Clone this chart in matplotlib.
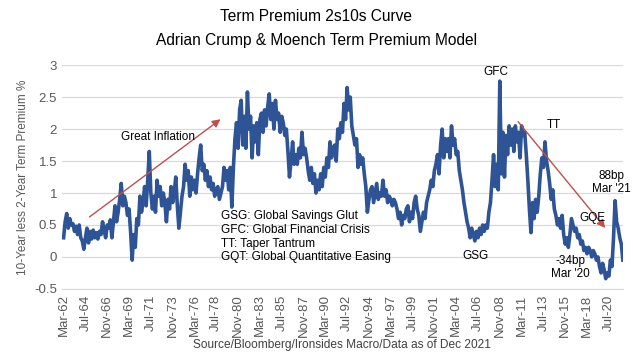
import numpy as np
import matplotlib
matplotlib.use("Agg")
import matplotlib.pyplot as plt

plt.rcParams['font.family'] = ['Liberation Sans', 'DejaVu Sans']

# bi-monthly readings, Mar-62 .. Jan-22, one row per year
term_premium = [
    0.30, 0.55, 0.68, 0.45, 0.60, 0.50,   # 1962
    0.52, 0.40, 0.48, 0.35, 0.50, 0.30,   # 1963
    0.25, 0.12, 0.30, 0.45, 0.22, 0.40,   # 1964
    0.28, 0.42, 0.30, 0.38, 0.28, 0.40,   # 1965
    0.35, 0.55, 0.42, 0.30, 0.50, 0.45,   # 1966
    0.58, 0.30, 0.55, 0.80, 0.55, 0.70,   # 1967
    0.90, 1.15, 0.80, 0.95, 0.85, 0.65,   # 1968
    0.75, 0.40, -0.05, 0.35, 0.15, 0.60,  # 1969
    0.50, 0.95, 0.70, 0.85, 1.10, 0.80,   # 1970
    1.20, 1.65, 1.00, 0.75, 0.95, 0.70,   # 1971
    1.20, 0.95, 1.10, 0.80, 1.00, 0.85,   # 1972
    0.55, 0.90, 0.75, 1.10, 0.85, 1.00,   # 1973
    1.25, 0.80, 0.45, 0.70, 0.95, 1.10,   # 1974
    1.45, 1.20, 1.35, 0.95, 1.25, 1.05,   # 1975
    1.20, 1.00, 1.30, 1.55, 1.75, 1.35,   # 1976
    1.45, 1.20, 1.35, 1.10, 1.25, 1.05,   # 1977
    1.15, 0.95, 1.05, 1.10, 0.90, 1.00,   # 1978
    1.10, 1.40, 1.20, 1.35, 1.05, 1.40,   # 1979
    0.78, 1.40, 1.85, 2.10, 1.70, 2.30,   # 1980
    2.45, 1.75, 2.20, 1.70, 2.58, 2.00,   # 1981
    2.20, 1.55, 2.05, 1.80, 2.10, 1.60,   # 1982
    2.15, 2.25, 1.95, 2.30, 2.05, 2.35,   # 1983
    2.55, 2.15, 2.40, 2.00, 2.45, 2.15,   # 1984
    2.25, 1.95, 2.20, 2.10, 1.90, 2.00,   # 1985
    1.65, 1.25, 1.50, 1.80, 1.45, 1.60,   # 1986
    1.45, 1.70, 1.55, 1.95, 1.60, 1.70,   # 1987
    1.55, 1.35, 1.20, 1.40, 1.15, 1.30,   # 1988
    1.00, 1.20, 1.05, 1.30, 1.10, 1.40,   # 1989
    1.25, 1.55, 1.40, 1.80, 1.55, 1.70,   # 1990
    1.75, 1.50, 2.00, 1.85, 2.10, 1.95,   # 1991
    2.40, 2.15, 2.65, 2.30, 2.50, 2.05,   # 1992
    1.90, 1.75, 1.85, 1.40, 1.60, 1.45,   # 1993
    1.55, 1.30, 1.10, 0.70, 0.90, 1.05,   # 1994
    1.10, 0.85, 1.00, 1.15, 0.90, 1.00,   # 1995
    0.95, 1.20, 0.95, 1.05, 0.85, 0.95,   # 1996
    0.90, 0.80, 0.90, 0.85, 0.75, 0.60,   # 1997
    0.70, 0.50, 0.65, 0.60, 0.75, 0.80,   # 1998
    0.55, 0.70, 0.60, 0.85, 0.95, 0.75,   # 1999
    0.65, 0.40, 0.55, 0.70, 0.60, 0.85,   # 2000
    0.95, 1.05, 1.20, 1.10, 1.35, 1.45,   # 2001
    1.60, 1.30, 1.75, 2.00, 1.55, 1.85,   # 2002
    1.65, 1.85, 1.55, 2.05, 1.75, 1.85,   # 2003
    1.60, 1.65, 1.35, 1.20, 1.05, 0.85,   # 2004
    0.70, 0.55, 0.45, 0.30, 0.45, 0.35,   # 2005
    0.25, 0.40, 0.30, 0.45, 0.35, 0.50,   # 2006
    0.40, 0.50, 0.45, 0.70, 0.85, 1.20,   # 2007
    1.60, 1.10, 1.45, 1.05, 2.75, 1.30,   # 2008
    1.95, 1.25, 1.90, 1.60, 2.05, 1.75,   # 2009
    2.00, 1.65, 2.05, 1.80, 1.95, 1.55,   # 2010
    2.05, 1.90, 1.95, 1.60, 1.20, 0.75,   # 2011
    0.38, 0.85, 0.60, 0.90, 0.70, 0.95,   # 2012
    1.30, 1.55, 1.40, 1.80, 1.50, 1.35,   # 2013
    1.15, 0.90, 1.05, 0.75, 0.65, 0.50,   # 2014
    0.60, 0.45, 0.65, 0.35, 0.20, 0.30,   # 2015
    0.15, 0.35, 0.60, 0.50, 0.40, 0.45,   # 2016
    0.30, 0.35, 0.20, 0.25, 0.10, 0.15,   # 2017
    0.05, 0.15, 0.10, 0.00, 0.10, 0.05,   # 2018
    -0.05, 0.00, -0.15, -0.25, -0.10, -0.20,  # 2019
    -0.34, -0.25, -0.30, -0.05, -0.15, 0.30,  # 2020
    0.88, 0.55, 0.45, 0.30, 0.20, -0.05,      # 2021
]

tick_labels = ['Mar-62', 'Jul-64', 'Nov-66', 'Mar-69', 'Jul-71', 'Nov-73', 'Mar-76',
               'Jul-78', 'Nov-80', 'Mar-83', 'Jul-85', 'Nov-87', 'Mar-90', 'Jul-92',
               'Nov-94', 'Mar-97', 'Jul-99', 'Nov-01', 'Mar-04', 'Jul-06', 'Nov-08',
               'Mar-11', 'Jul-13', 'Nov-15', 'Mar-18', 'Jul-20']

glossary = ['GSG: Global Savings Glut', 'GFC: Global Financial Crisis',
            'TT: Taper Tantrum', 'GQT: Global Quantitative Easing']

# time axis in fractional years (month index / 12)
years = 1962 + (2 + 2 * np.arange(len(term_premium))) / 12.0
tick_pos = 1962 + (2 + 28 * np.arange(len(tick_labels))) / 12.0

fig = plt.figure(figsize=(6.33, 3.58), dpi=100)
ax = fig.add_axes([0.098, 0.193, 0.886, 0.625])

ax.plot(years, term_premium, color='#2F5496', lw=2.6, solid_joinstyle='round')

ax.set_xlim(1962.0, 2022.0)
ax.set_ylim(-0.5, 3)
ax.set_yticks(np.arange(-0.5, 3.01, 0.5))
ax.set_yticklabels(['-0.5', '0', '0.5', '1', '1.5', '2', '2.5', '3'])
ax.set_xticks(tick_pos)
ax.set_xticklabels(tick_labels, rotation=90)
ax.tick_params(axis='both', length=0, labelsize=9.5, colors='#595959')
ax.tick_params(axis='x', pad=4)
ax.grid(axis='y', color='#D9D9D9', lw=0.9)
ax.set_axisbelow(True)
for s in ['top', 'right', 'left']:
    ax.spines[s].set_visible(False)
ax.spines['bottom'].set_color('#D9D9D9')

ax.set_ylabel('10-Year less 2-Year Term Premium %', fontsize=8.5, color='#595959')

fig.text(0.5, 0.953, 'Term Premium 2s10s Curve', ha='center', va='center', fontsize=11.2)
fig.text(0.5, 0.888, 'Adrian Crump & Moench Term Premium Model', ha='center', va='center', fontsize=11.2)
fig.text(0.540, 0.035, 'Source/Bloomberg/Ironsides Macro/Data as of Dec 2021', ha='center',
         va='center', fontsize=8.6, color='#404040')

arrow = dict(arrowstyle='-|>', color='#C0504D', lw=1, mutation_scale=12)
ax.annotate('', xy=(1979.2, 2.18), xytext=(1964.7, 0.6), arrowprops=arrow)
ax.annotate('', xy=(2020.3, 0.42), xytext=(2010.6, 2.15), arrowprops=arrow)

fs = 8.5
ax.text(1972.3, 1.88, 'Great Inflation', ha='center', va='center', fontsize=fs)
ax.text(2008.4, 2.9, 'GFC', ha='center', va='center', fontsize=fs)
ax.text(2014.6, 2.07, 'TT', ha='center', va='center', fontsize=fs)
ax.text(2006.2, 0.02, 'GSG', ha='center', va='center', fontsize=fs)
ax.text(2018.7, 0.61, 'GQE', ha='center', va='center', fontsize=fs)
ax.text(2016.4, -0.17, "-34bp\nMar '20", ha='center', va='center', fontsize=fs, linespacing=1.1)
ax.text(2020.8, 1.17, "88bp\nMar '21", ha='center', va='center', fontsize=fs,
        linespacing=1.1, clip_on=False)
for i, line in enumerate(glossary):
    ax.text(1979.0, 0.64 - i * 0.215, line, ha='left', va='center', fontsize=fs)

fig.savefig('out.png', dpi=100)
